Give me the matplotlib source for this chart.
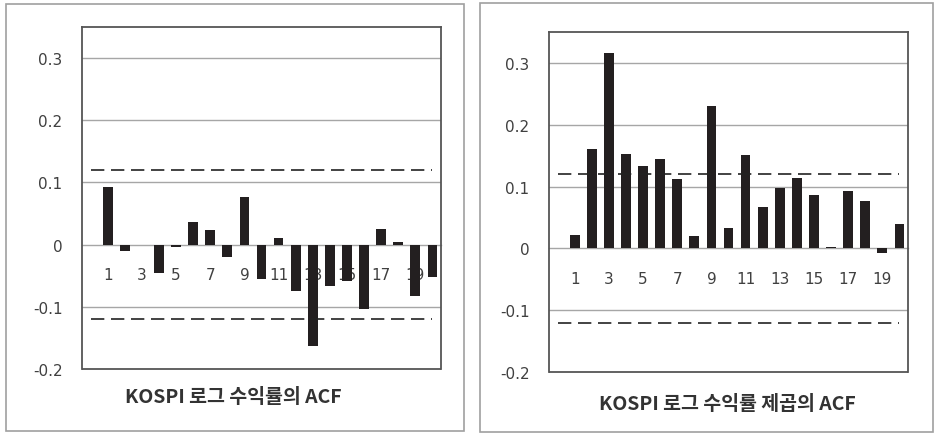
import matplotlib
matplotlib.use("Agg")
import matplotlib.pyplot as plt
from matplotlib.patches import Rectangle

plt.rcParams['font.family'] = ['Noto Sans CJK KR', 'DejaVu Sans']

# lag 0..20 (lag 0 left empty as in the original Excel chart)
lags = list(range(0, 21))
acf_ret = [0, 0.092, -0.011, 0, -0.045, -0.003, 0.036, 0.023, -0.020, 0.076, -0.056,
           0.010, -0.074, -0.163, -0.067, -0.058, -0.103, 0.025, 0.005, -0.082, -0.052]
acf_sq = [0, 0.022, 0.160, 0.316, 0.152, 0.134, 0.144, 0.112, 0.020, 0.231, 0.033,
          0.151, 0.067, 0.098, 0.114, 0.086, 0.003, 0.093, 0.076, -0.008, 0.039]
conf_band = 0.12
tick_lags = [1, 3, 5, 7, 9, 11, 13, 15, 17, 19]
yticks = [-0.2, -0.1, 0, 0.1, 0.2, 0.3]
ytick_labels = ["-0.2", "-0.1", "0", "0.1", "0.2", "0.3"]
titles = ["KOSPI 로그 수익률의 ACF", "KOSPI 로그 수익률 제곱의 ACF"]

W, H = 935, 435
fig = plt.figure(figsize=(W / 100, H / 100), dpi=100)


def px_axes(x0, y0, x1, y1):
    return fig.add_axes([x0 / W, 1 - y1 / H, (x1 - x0) / W, (y1 - y0) / H])


def draw_acf(ax, values, title, title_xy):
    ax.set_xlim(-0.5, 20.5)
    ax.set_ylim(-0.2, 0.35)
    for g in [-0.1, 0.1, 0.2, 0.3]:
        ax.axhline(g, color="#a6a6a6", lw=1.0, zorder=1)
    ax.bar(lags, values, width=0.57, color="#231f20", zorder=3)
    ax.plot([0, 20], [conf_band, conf_band], color="#222222", lw=1.2,
            dashes=(8, 4), zorder=4)
    ax.plot([0, 20], [-conf_band, -conf_band], color="#222222", lw=1.2,
            dashes=(8, 4), zorder=4)

    # category axis sits on the zero line, labels go under the bars
    ax.spines['bottom'].set_position(('data', 0))
    ax.spines['bottom'].set_color("#a6a6a6")
    ax.spines['bottom'].set_linewidth(1.0)
    ax.spines['bottom'].set_zorder(2)
    for s in ['top', 'left', 'right']:
        ax.spines[s].set_color("#555555")
        ax.spines[s].set_linewidth(1.3)
    ax.add_patch(Rectangle((0, 0), 1, 0, transform=ax.transAxes, fill=False,
                           ec="#555555", lw=1.3, clip_on=False, zorder=5))
    ax.set_xticks(tick_lags)
    ax.set_xticklabels([str(t) for t in tick_lags])
    ax.tick_params(axis='x', length=0, pad=16, labelsize=11, labelcolor="#404040")
    ax.set_yticks(yticks)
    ax.set_yticklabels(ytick_labels, family="DejaVu Sans")
    ax.tick_params(axis='y', length=0, pad=14, labelsize=11, labelcolor="#404040")
    for lab in ax.get_xticklabels():
        lab.set_family("DejaVu Sans")
    ax.xaxis.set_zorder(2)
    fig.text(title_xy[0] / W, 1 - title_xy[1] / H, title, ha="center", va="center",
             fontsize=14, fontweight="bold", color="#333333")


ax1 = px_axes(82, 28, 441, 370)
draw_acf(ax1, acf_ret, titles[0], (233, 398))
ax2 = px_axes(549, 33, 908, 373)
draw_acf(ax2, acf_sq, titles[1], (727, 405))

# outer chart-area borders
fig.add_artist(Rectangle((6 / W, 1 - 432 / H), 458 / W, 427 / H, fill=False,
                         ec="#a0a0a0", lw=1.2, transform=fig.transFigure))
fig.add_artist(Rectangle((480 / W, 1 - 433 / H), 453 / W, 429 / H, fill=False,
                         ec="#a0a0a0", lw=1.2, transform=fig.transFigure))

fig.savefig("out.png", dpi=100)
